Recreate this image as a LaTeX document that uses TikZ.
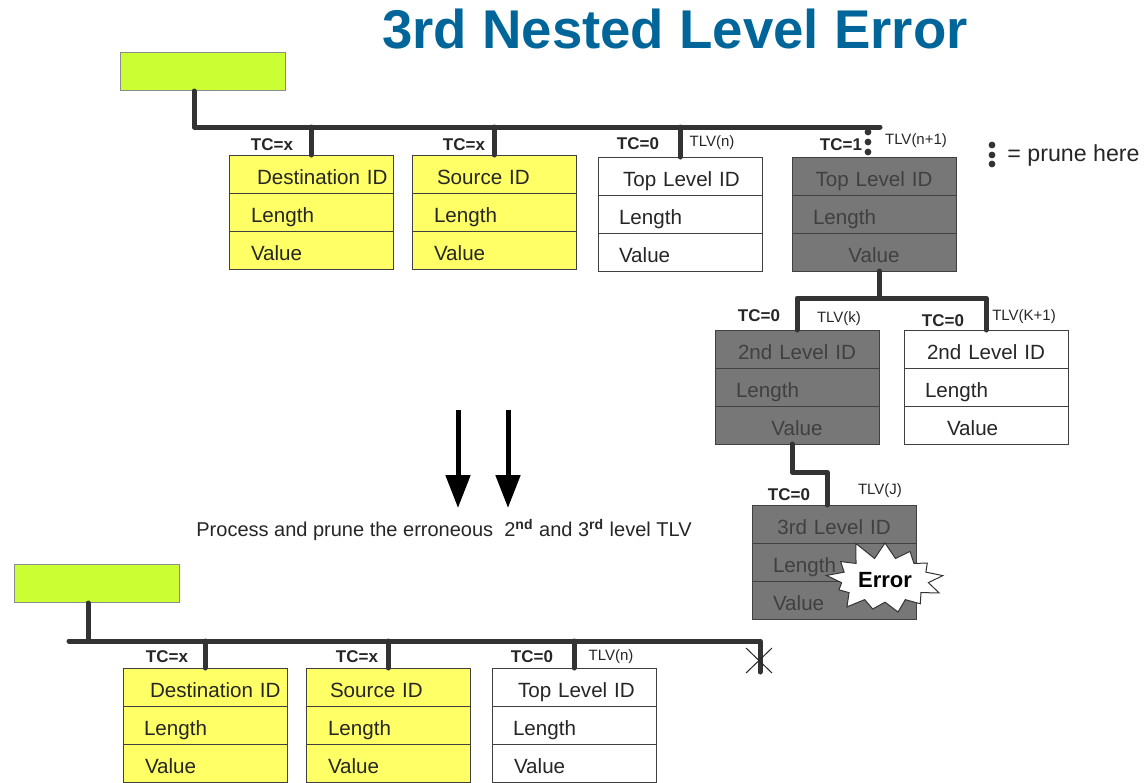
\documentclass[tikz,border=0pt]{standalone}
\usepackage{fontspec}
\setmainfont{Liberation Sans}
\usetikzlibrary{arrows.meta,positioning,shapes.symbols}

\definecolor{limebox}{HTML}{CCFF33}
\definecolor{yelfill}{HTML}{FFFF66}
\definecolor{greyfill}{HTML}{777777}
\definecolor{busline}{HTML}{333333}
\definecolor{titleblue}{HTML}{006699}

\tikzset{
  field/.style={draw=black!75, line width=0.5pt, outer sep=0pt, inner sep=0pt,
    minimum height=19pt, text width=82pt, align=left, text height=10pt, text depth=0pt,
    font=\fontsize{10.3}{12}\selectfont, execute at begin node={\hspace*{#1}}},
  field/.default=10.5pt,
  yelbox/.style={fill=yelfill, text=black!85},
  greybox/.style={fill=greyfill, text=black!75},
  whitebox/.style={fill=white, text=black!85},
  linkbox/.style={draw=black!45, fill=limebox, line width=0.5pt, minimum width=82.5pt,
    minimum height=19pt, inner sep=0pt, anchor=north west},
  bus/.style={draw=busline, line width=2.5pt, line cap=round, line join=round},
  tclabel/.style={font=\fontsize{8.5}{10}\selectfont\bfseries, text=black!85, inner sep=0pt},
  tlvlabel/.style={font=\fontsize{7.5}{9}\selectfont, text=black!85, inner sep=0pt},
  prunedot/.style={fill=black!80},
  bigarrow/.style={line width=2.5pt, -{Triangle[width=12pt,length=16.5pt]}},
}

\begin{document}
\begin{tikzpicture}[x=0.5pt,y=-0.5pt]
\useasboundingbox (0,0) rectangle (1144,782);

\node[font=\fontsize{27.3}{30}\selectfont\bfseries, text=titleblue] (title) at (675,29) {3rd Nested Level Error};

% top message
\node[linkbox] (tlink) at (120,52) {};

\node[field=14pt, yelbox, anchor=north west] (dst1) at (229,155) {Destination ID};
\node[field=11pt, yelbox, below=0pt of dst1] (dst2) {Length};
\node[field=11pt, yelbox, below=0pt of dst2] (dst3) {Value};

\node[field=12.5pt, yelbox, anchor=north west] (src1) at (412,155) {Source ID};
\node[field=11pt, yelbox, below=0pt of src1] (src2) {Length};
\node[field=11pt, yelbox, below=0pt of src2] (src3) {Value};

\node[field=12.5pt, whitebox, anchor=north west] (top1) at (598,157) {Top Level ID};
\node[field, whitebox, below=0pt of top1] (top2) {Length};
\node[field, whitebox, below=0pt of top2] (top3) {Value};

\node[field=0pt, align=center, greybox, anchor=north west] (topx1) at (792,157) {Top Level ID};
\node[field, greybox, below=0pt of topx1] (topx2) {Length};
\node[field=0pt, align=center, greybox, below=0pt of topx2] (topx3) {Value};

\node[field=0pt, align=center, greybox, anchor=north west] (sec1) at (715,330) {2nd Level ID};
\node[field, greybox, below=0pt of sec1] (sec2) {Length};
\node[field=0pt, align=center, greybox, below=0pt of sec2] (sec3) {Value};

\node[field=0pt, align=center, whitebox, anchor=north west] (secb1) at (904,330) {2nd Level ID};
\node[field, whitebox, below=0pt of secb1] (secb2) {Length};
\node[field=21.5pt, whitebox, below=0pt of secb2] (secb3) {Value};

\node[field=0pt, align=center, greybox, anchor=north west] (thr1) at (752,505) {3rd Level ID};
\node[field, greybox, below=0pt of thr1] (thr2) {Length};
\node[field, greybox, below=0pt of thr2] (thr3) {Value};

\node[starburst, draw=black!80, fill=white, line width=0.5pt, inner xsep=2pt, inner ysep=4pt,
  starburst point height=10pt, starburst points=13, random starburst=11,
  font=\fontsize{11}{13}\selectfont\bfseries] (err) at (885,580) {Error};

% top bus
\coordinate (tbus) at (880,127);
\draw[bus] ([xshift=-4.5pt]tlink.south) |- (tbus);
\draw[bus] (dst1.north) -- (dst1.north |- tbus);
\draw[bus] (src1.north) -- (src1.north |- tbus);
\draw[bus] (top1.north) -- (top1.north |- tbus);

\fill[prunedot] (868,132) circle (1.7pt);
\fill[prunedot] (868,142) circle (1.7pt);
\fill[prunedot] (868,152) circle (1.7pt);

% nested levels
\coordinate (j2) at (879,298);
\draw[bus] ([xshift=2.5pt]topx3.south) -- (j2);
\draw[bus] (sec1.north) |- (j2) -| (secb1.north);
\coordinate (j3) at (827,472);
\draw[bus] ([xshift=-2.5pt]sec3.south) |- (j3) -- (j3 |- thr1.north);

\node[tclabel] (tc1) at (272,145) {TC=x};
\node[tclabel] (tc2) at (464,145) {TC=x};
\node[tclabel] (tc3) at (638,144) {TC=0};
\node[tlvlabel] (tlv3) at (712,143) {TLV(n)};
\node[tclabel] (tc4) at (841,145) {TC=1};
\node[tlvlabel] (tlv4) at (916,141) {TLV(n+1)};
\node[tclabel] (tc5) at (759,316) {TC=0};
\node[tlvlabel] (tlv5) at (839,319) {TLV(k)};
\node[tclabel] (tc6) at (943,321) {TC=0};
\node[tlvlabel] (tlv6) at (1024,317) {TLV(K+1)};
\node[tclabel] (tc7) at (789,495) {TC=0};
\node[tlvlabel] (tlv7) at (880,491) {TLV(J)};

% legend
\fill[prunedot] (992,145) circle (1.7pt);
\fill[prunedot] (992,155) circle (1.7pt);
\fill[prunedot] (992,164) circle (1.7pt);
\node[anchor=west, inner sep=0pt, font=\fontsize{11.6}{13}\selectfont, text=black!85] (legend) at (1007,155) {= prune here};

% processing step
\coordinate (a1s) at (458,410);
\coordinate (a1e) at (458,508);
\coordinate (a2s) at (508,410);
\coordinate (a2e) at (508,508);
\draw[bigarrow] (a1s) -- (a1e);
\draw[bigarrow] (a2s) -- (a2e);
\node[font=\fontsize{10}{12}\selectfont, text=black!85] (step) at (444,530)
  {Process and prune the erroneous\ \ 2\textsuperscript{\bfseries nd} and 3\textsuperscript{\bfseries rd} level TLV};

% bottom message
\node[linkbox] (blink) at (14,564) {};

\node[field=13.5pt, yelbox, anchor=north west] (bdst1) at (123,668) {Destination ID};
\node[field, yelbox, below=0pt of bdst1] (bdst2) {Length};
\node[field=11pt, yelbox, below=0pt of bdst2] (bdst3) {Value};

\node[field=12pt, yelbox, anchor=north west] (bsrc1) at (306,668) {Source ID};
\node[field=11pt, yelbox, below=0pt of bsrc1] (bsrc2) {Length};
\node[field=11pt, yelbox, below=0pt of bsrc2] (bsrc3) {Value};

\node[field=13pt, whitebox, anchor=north west] (btop1) at (492,668) {Top Level ID};
\node[field, whitebox, below=0pt of btop1] (btop2) {Length};
\node[field=11pt, whitebox, below=0pt of btop2] (btop3) {Value};

\coordinate (bbusL) at (69,641);
\coordinate (bbusR) at (760,641);
\coordinate (cut) at (760,672);
\draw[bus] (bbusL) -- (bbusR) -- (cut);
\draw[bus] ([xshift=-4.5pt]blink.south) -- ([xshift=-4.5pt]blink.south |- bbusL);
\draw[bus] (bdst1.north) -- (bdst1.north |- bbusL);
\draw[bus] (bsrc1.north) -- (bsrc1.north |- bbusL);
\draw[bus] (btop1.north) -- (btop1.north |- bbusL);
\draw[black!85, line width=0.5pt] (746,648) -- (772,673) (772,648) -- (746,673);

\node[tclabel] (btc1) at (167,657) {TC=x};
\node[tclabel] (btc2) at (357,657) {TC=x};
\node[tclabel] (btc3) at (532,657) {TC=0};
\node[tlvlabel] (btlv3) at (611,657) {TLV(n)};

\end{tikzpicture}
\end{document}
